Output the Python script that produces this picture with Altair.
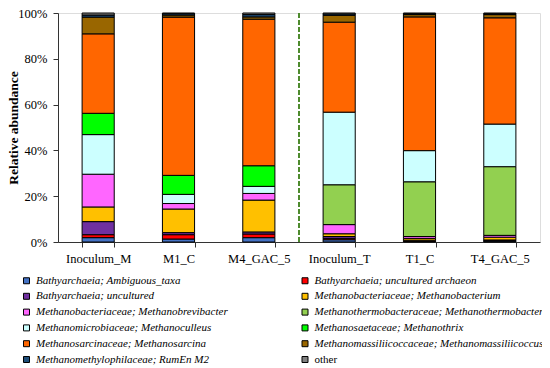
import altair as alt
import pandas as pd

samples = ["Inoculum_M", "M1_C", "M4_GAC_5", "Inoculum_T", "T1_C", "T4_GAC_5"]

taxa = [
    "Bathyarchaeia; Ambiguous_taxa",
    "Bathyarchaeia; uncultured archaeon",
    "Bathyarchaeia; uncultured",
    "Methanobacteriaceae; Methanobacterium",
    "Methanobacteriaceae; Methanobrevibacter",
    "Methanothermobacteraceae; Methanothermobacter",
    "Methanomicrobiaceae; Methanoculleus",
    "Methanosaetaceae; Methanothrix",
    "Methanosarcinaceae; Methanosarcina",
    "Methanomassiliicoccaceae; Methanomassiliicoccus",
    "Methanomethylophilaceae; RumEn M2",
    "other",
]

colors = ["#4472C4", "#FF0000", "#7030A0", "#FFC000", "#FF66FF", "#92D050",
          "#CCFFFF", "#00FF00", "#FF6600", "#996600", "#1F4E79", "#808080"]

# relative abundance (%) per sample, in the order of `taxa`
inoculum_m = [1.9, 1.3, 5.7, 6.4, 14.3, 0.0, 17.3, 9.3, 34.7, 7.3, 0.9, 0.9]
m1_c = [1.3, 1.9, 0.9, 10.3, 2.4, 0.0, 4.0, 8.3, 69.1, 0.9, 0.6, 0.3]
m4_gac_5 = [1.9, 1.6, 0.9, 13.9, 2.9, 0.0, 3.1, 9.0, 64.0, 1.0, 1.0, 0.7]
inoculum_t = [1.0, 0.6, 0.8, 1.2, 4.0, 17.4, 31.7, 0.0, 39.3, 3.0, 0.6, 0.4]
t1_c = [0.3, 0.2, 0.3, 0.8, 0.8, 23.9, 13.6, 0.0, 58.4, 1.0, 0.4, 0.3]
t4_gac_5 = [0.4, 0.2, 0.3, 1.2, 0.8, 30.0, 18.6, 0.0, 46.4, 1.4, 0.4, 0.3]

y_ticks = [0, 20, 40, 60, 80, 100]
divider_pos = [3]  # boundary between the M and T groups (in category units)

series = [inoculum_m, m1_c, m4_gac_5, inoculum_t, t1_c, t4_gac_5]
rows = []
for s, vals in zip(samples, series):
    for i, (t, v) in enumerate(zip(taxa, vals)):
        if v > 0:
            rows.append({"sample": s, "taxon": t, "value": v, "idx": i})
df = pd.DataFrame(rows)

FONT = "Liberation Serif, Times New Roman, DejaVu Serif, serif"

bars = alt.Chart(df).mark_bar(stroke="black", strokeWidth=1).encode(
    x=alt.X("sample:N", sort=samples, title=None,
            scale=alt.Scale(paddingInner=0.6, paddingOuter=0.3),
            axis=alt.Axis(labelAngle=0, tickBand="extent", labelPadding=5,
                          labelFontSize=12.5, tickSize=5, domainColor="#333",
                          tickColor="#333", labelColor="black", labelFont=FONT)),
    y=alt.Y("value:Q", stack="zero", title="Relative abundance",
            scale=alt.Scale(domain=[0, 100], nice=False),
            axis=alt.Axis(values=y_ticks, labelExpr="datum.value + '%'", grid=False,
                          tickSize=5, labelPadding=6, domainColor="#333", tickColor="#333",
                          labelFontSize=12.5, labelFont=FONT, labelColor="black",
                          titleFont=FONT, titleFontSize=13.5, titleFontWeight="bold",
                          titleColor="black", titleX=-38)),
    color=alt.Color("taxon:N", sort=taxa,
                    scale=alt.Scale(domain=taxa, range=colors),
                    legend=alt.Legend(title=None, orient="none", legendX=-37, legendY=262,
                                      direction="horizontal", padding=0,
                                      columns=2, columnPadding=71.5, rowPadding=3.8,
                                      symbolType="square", symbolSize=36,
                                      symbolStrokeColor="black", symbolStrokeWidth=1,
                                      labelFont=FONT, labelFontSize=11,
                                      labelFontStyle=alt.ExprRef("datum.value == 'other' ? 'normal' : 'italic'"),
                                      labelColor="black", labelLimit=400, labelOffset=4)),
    order=alt.Order("idx:Q", sort="ascending"),
)

divider = alt.Chart(pd.DataFrame({"pos": divider_pos, "lo": [0], "hi": [100]})).mark_rule(
    color="#4E8B2E", strokeWidth=2, strokeDash=[5, 2]
).encode(
    x=alt.X("pos:Q", scale=alt.Scale(domain=[0, 6]), axis=None),
    y=alt.Y("lo:Q"),
    y2="hi:Q",
)

chart = alt.layer(bars, divider).resolve_scale(x="independent").properties(
    width=482, height=229,
    autosize=alt.AutoSizeParams(type="none"),
    padding={"left": 50, "top": 5, "right": 2, "bottom": 125},
).configure_view(stroke=None).configure(background="white", font=FONT)

chart.save("out.html", embed_options={"renderer": "svg", "actions": False})
